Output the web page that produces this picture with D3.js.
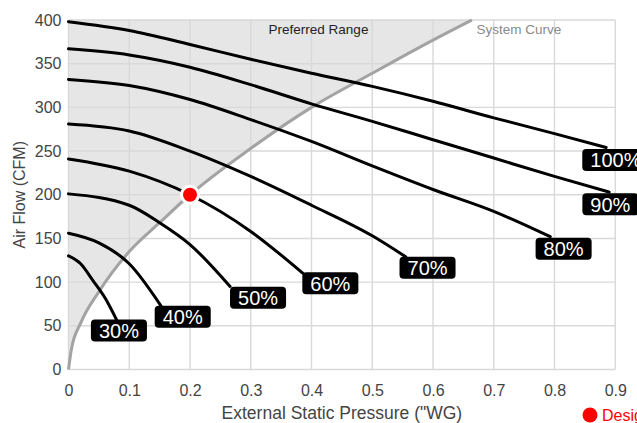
<!DOCTYPE html>
<html>
<head>
<meta charset="utf-8">
<script src="https://cdnjs.cloudflare.com/ajax/libs/d3/7.8.5/d3.min.js"></script>
<style>
  body { margin: 0; background: #fff; overflow: hidden; }
  svg { display: block; font-family: "Liberation Sans", Arial, sans-serif; }
</style>
</head>
<body>
<div id="chart"></div>
<script>
// fan speed settings, one curve each
var speeds = ["30%", "40%", "50%", "60%", "70%", "80%", "90%", "100%"];

// [pressure "WG, air flow CFM]
var curve30 = [[0, 130], [0.02, 121], [0.04, 102], [0.06, 82], [0.079, 57]];
var curve40 = [[0, 156], [0.05, 145], [0.1, 121], [0.153, 72]];
var curve50 = [[0, 201], [0.1, 188], [0.15, 168], [0.2, 143], [0.266, 95]];
var curve60 = [[0, 241], [0.1, 227], [0.2, 200], [0.3, 158], [0.386, 110]];
var curve70 = [[0, 281], [0.1, 273], [0.2, 250], [0.3, 221], [0.4, 188], [0.5, 153], [0.555, 129]];
var curve80 = [[0, 332], [0.1, 325], [0.2, 309], [0.3, 286], [0.4, 261], [0.5, 233], [0.6, 206], [0.7, 181], [0.793, 152]];
var curve90 = [[0, 367], [0.1, 360], [0.2, 346], [0.3, 326], [0.4, 304], [0.5, 284], [0.6, 263], [0.7, 242], [0.8, 221], [0.89, 203]];
var curve100 = [[0, 398], [0.1, 388], [0.2, 372], [0.3, 355], [0.4, 339], [0.5, 324], [0.6, 307], [0.7, 288], [0.8, 270], [0.885, 254]];
var fanCurves = [curve30, curve40, curve50, curve60, curve70, curve80, curve90, curve100];

// where each speed label sits (centre, in data units)
var labelPressure = [0.083, 0.188, 0.312, 0.431, 0.591, 0.815, 0.892, 0.901];
var labelFlow = [44.6, 60.4, 82, 98.7, 116.5, 138.2, 189, 239.8];

var systemCurve = [[0, 0], [0.005, 24], [0.02, 53], [0.05, 89], [0.1, 135], [0.15, 168], [0.2, 200],
                   [0.3, 253], [0.4, 300], [0.5, 339], [0.6, 377], [0.664, 400]];

var designPoint = [0.2, 200];

var xTicks = [0, 0.1, 0.2, 0.3, 0.4, 0.5, 0.6, 0.7, 0.8, 0.9];
var yTicks = [0, 50, 100, 150, 200, 250, 300, 350, 400];

var width = 637, height = 423;
var margin = {top: 20, right: 21.75, bottom: 53.5, left: 68.5};

var svg = d3.select("#chart").append("svg")
    .attr("width", width).attr("height", height);

var x = d3.scaleLinear().domain([0, 0.9]).range([margin.left, width - margin.right]);
var y = d3.scaleLinear().domain([0, 400]).range([height - margin.bottom, margin.top]);

// preferred range: above/left of the system curve
var area = d3.area()
    .curve(d3.curveMonotoneX)
    .x(function (d) { return x(d[0]); })
    .y0(y(400))
    .y1(function (d) { return y(d[1]); });

svg.append("path")
    .datum(systemCurve)
    .attr("d", area)
    .attr("fill", "#e6e6e6");

// grid
var grid = svg.append("g").attr("stroke", "#d9d9d9").attr("stroke-width", 1.4);
grid.selectAll("line.v").data(xTicks).enter().append("line")
    .attr("x1", function (d) { return x(d); }).attr("x2", function (d) { return x(d); })
    .attr("y1", y(0)).attr("y2", y(400));
grid.selectAll("line.h").data(yTicks).enter().append("line")
    .attr("y1", function (d) { return y(d); }).attr("y2", function (d) { return y(d); })
    .attr("x1", x(0)).attr("x2", x(0.9));

// axes (labels only, grid does the lines)
var xAxis = svg.append("g")
    .attr("transform", "translate(0," + y(0) + ")")
    .call(d3.axisBottom(x).tickValues(xTicks).tickSize(0).tickPadding(15)
        .tickFormat(function (d) { return d === 0 ? "0" : d3.format(".1f")(d); }));
var yAxis = svg.append("g")
    .attr("transform", "translate(" + x(0) + ",0)")
    .call(d3.axisLeft(y).tickValues(yTicks).tickSize(0).tickPadding(7));
[xAxis, yAxis].forEach(function (a) {
    a.select(".domain").remove();
    a.selectAll("text").attr("fill", "#444").style("font-size", "16px")
        .style("font-family", "'Liberation Sans', Arial, sans-serif");
});

svg.append("text")
    .attr("x", x(0.45)).attr("y", 419)
    .attr("text-anchor", "middle")
    .attr("fill", "#444").style("font-size", "17.5px")
    .text("External Static Pressure (\"WG)");

svg.append("text")
    .attr("transform", "translate(24.5," + y(200) + ") rotate(-90)")
    .attr("text-anchor", "middle")
    .attr("fill", "#444").style("font-size", "16px")
    .text("Air Flow (CFM)");

// system curve
var line = d3.line()
    .curve(d3.curveMonotoneX)
    .x(function (d) { return x(d[0]); })
    .y(function (d) { return y(d[1]); });

svg.append("path")
    .datum(systemCurve)
    .attr("d", line)
    .attr("fill", "none")
    .attr("stroke", "#a3a3a3")
    .attr("stroke-width", 3);

svg.append("text")
    .attr("x", x(0.4115)).attr("y", y(400) + 13.5)
    .attr("text-anchor", "middle")
    .attr("fill", "#222").style("font-size", "13.5px")
    .text("Preferred Range");

svg.append("text")
    .attr("x", x(0.7415)).attr("y", y(400) + 13.5)
    .attr("text-anchor", "middle")
    .attr("fill", "#8a8a8a").style("font-size", "13.5px")
    .text("System Curve");

// fan curves
svg.append("g").selectAll("path")
    .data(fanCurves).enter().append("path")
    .attr("d", line)
    .attr("fill", "none")
    .attr("stroke", "#000")
    .attr("stroke-width", 3)
    .attr("stroke-linecap", "round");

// design point
svg.append("circle")
    .attr("cx", x(designPoint[0])).attr("cy", y(designPoint[1]))
    .attr("r", 8.5)
    .attr("fill", "#ff0000")
    .attr("stroke", "#fff")
    .attr("stroke-width", 3);

// speed labels
var labels = svg.append("g").selectAll("g")
    .data(speeds).enter().append("g")
    .attr("transform", function (d, i) {
        return "translate(" + x(labelPressure[i]) + "," + y(labelFlow[i]) + ")";
    });
var labelText = labels.append("text")
    .attr("text-anchor", "middle")
    .attr("y", 7.3)
    .attr("fill", "#fff")
    .style("font-size", "20px")
    .text(function (d) { return d; });
labels.insert("rect", "text")
    .each(function (d, i) {
        var w = labelText.nodes()[i].getComputedTextLength() + 16;
        d3.select(this).attr("x", -w / 2).attr("width", w);
    })
    .attr("y", -11).attr("height", 22)
    .attr("rx", 4)
    .attr("fill", "#000");

// legend (runs off the right edge like the original)
var legend = svg.append("g").attr("transform", "translate(590,415)");
legend.append("circle").attr("r", 7.5).attr("fill", "#ff0000");
legend.append("text")
    .attr("x", 12).attr("y", 6)
    .attr("fill", "#ff0000").style("font-size", "16px")
    .text("Design Point");
</script>
</body>
</html>
